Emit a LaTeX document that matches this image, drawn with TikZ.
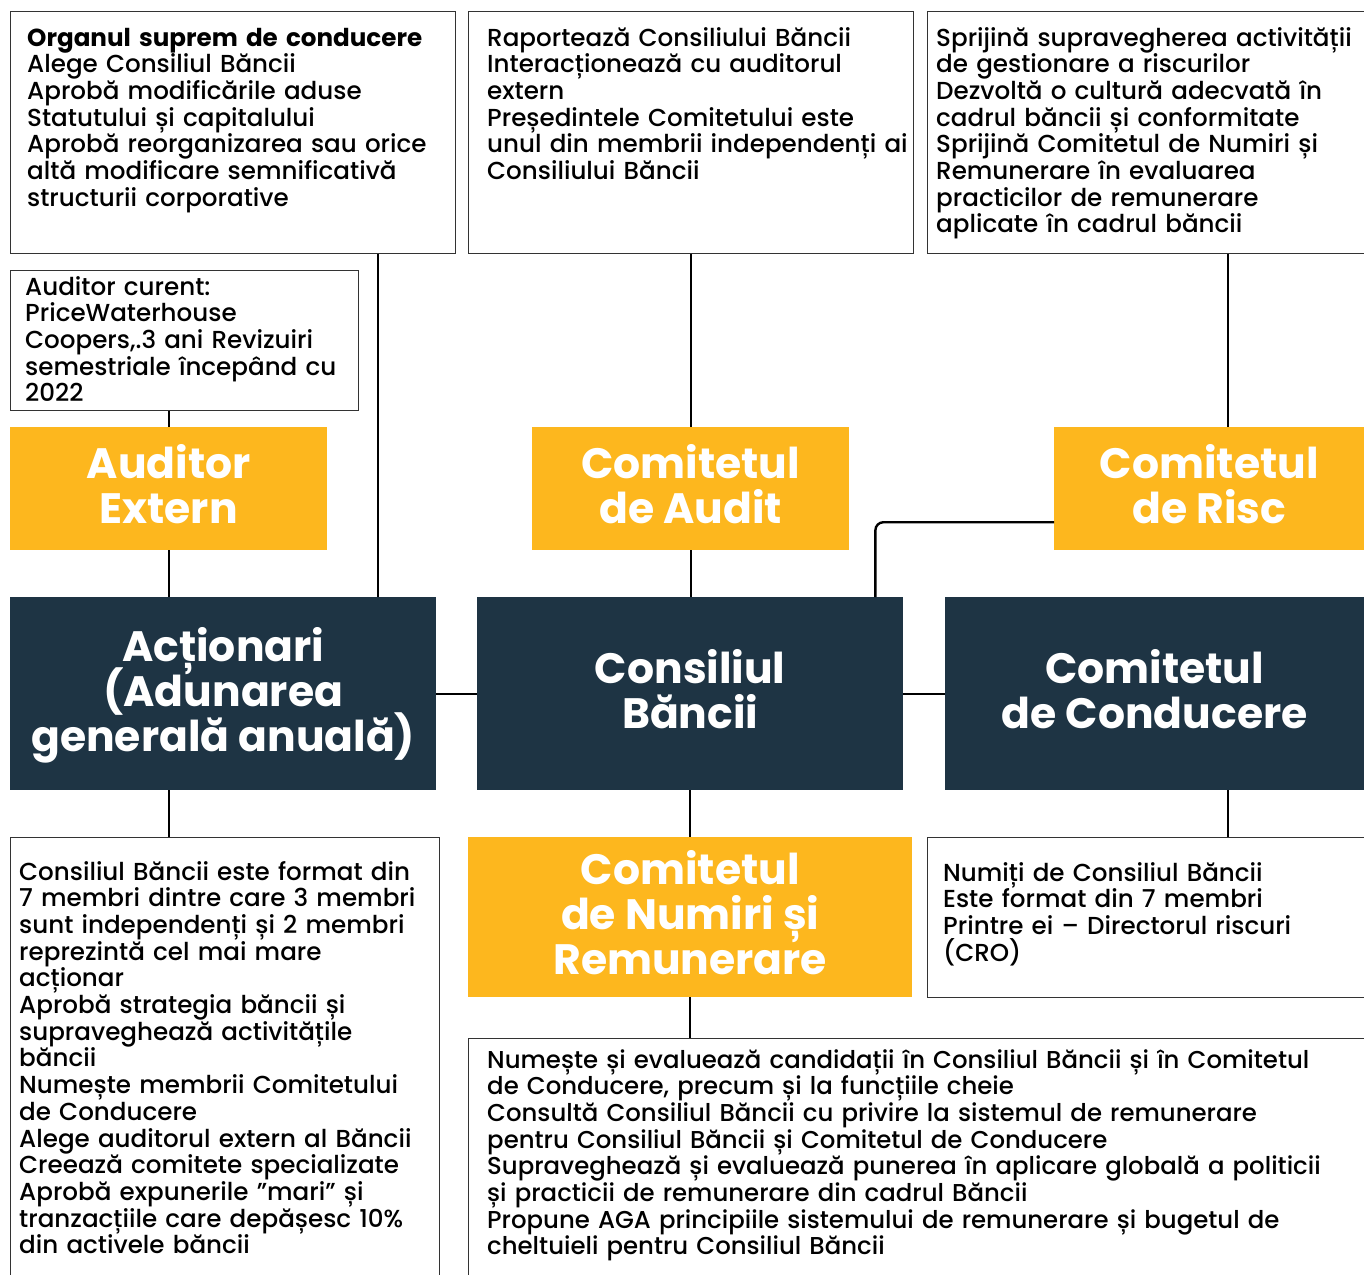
\documentclass[tikz,border=0pt]{standalone}
\usepackage{fontspec}
\setmainfont{Poppins}[UprightFont=* Medium,BoldFont=* Bold]
\definecolor{gold}{HTML}{FDB71E}
\definecolor{navy}{HTML}{1E3444}
\definecolor{bord}{HTML}{333333}
\newcommand\tightlines{\lineskiplimit=-60pt\relax}
\tikzset{
  txtbox/.style={draw=bord,line width=1.2pt,fill=white,anchor=north west,inner sep=0pt},
  headfont/.style={font=\fontsize{42.5}{45}\selectfont\bfseries\tightlines},
  goldbox/.style={fill=gold,anchor=north west,inner sep=0pt,text=white,headfont,align=center,text depth=9pt},
  navybox/.style={fill=navy,anchor=north west,inner sep=0pt,text=white,headfont,align=center,text depth=9pt},
  body/.style={anchor=base west,inner sep=0pt,align=left,text width=#1,font=\fontsize{24.6}{26.7}\selectfont\tightlines},
  conn/.style={line width=2.4pt,black},
}
\begin{document}
\begin{tikzpicture}[x=1pt,y=-1pt]
\useasboundingbox (0,0) rectangle (1364,1274);
\begin{scope}
\clip (0,0) rectangle (1364,1274);
% text boxes
\node[txtbox,minimum width=445pt,minimum height=242pt] (tl) at (10,11) {};
\node[txtbox,minimum width=445pt,minimum height=242pt] (tm) at (468,11) {};
\node[txtbox,minimum width=450pt,minimum height=242pt] (tr) at (927,11) {};
\node[txtbox,minimum width=348pt,minimum height=140pt] (ac) at (10,270) {};
\node[txtbox,minimum width=429pt,minimum height=450pt] (bl) at (10,837) {};
\node[txtbox,minimum width=450pt,minimum height=160pt] (br) at (927,837) {};
\node[txtbox,minimum width=910pt,minimum height=250pt] (bm) at (468,1038) {};
% gold boxes
\node[goldbox,minimum width=317pt,minimum height=123pt] (ae) at (10,427) {Auditor\\Extern};
\node[goldbox,minimum width=317pt,minimum height=123pt] (ca) at (532,427) {Comitetul\\de Audit};
\node[goldbox,minimum width=310pt,minimum height=123pt] (cr) at (1054,427) {Comitetul\\de Risc};
\node[goldbox,minimum width=444pt,minimum height=160pt] (cn) at (468,837) {Comitetul\\de Numiri și\\Remunerare};
% navy boxes
\node[navybox,minimum width=426pt,minimum height=193pt] (act) at (10,597) {Acționari\\(Adunarea\\generală anuală)};
\node[navybox,minimum width=426pt,minimum height=193pt] (cb) at (477,597) {Consiliul\\Băncii};
\node[navybox,minimum width=419pt,minimum height=193pt] (cc) at (945,597) {Comitetul\\de Conducere};
% connectors
\draw[conn] ([xshift=368pt]tl.south west) -- ([xshift=368pt]tl.south west |- act.north);
\draw[conn] (tm.south -| ca.north) -- (ca.north);
\draw[conn] ([xshift=301pt]tr.south west) -- ([xshift=301pt]tr.south west |- cr.north);
\draw[conn] (ac.south -| ae.north) -- (ae.north);
\draw[conn] (ae.south) -- (ae.south |- act.north);
\draw[conn] (ca.south) -- (ca.south |- cb.north);
\coordinate (rk) at ([xshift=-28pt]cb.north east);
\draw[conn,rounded corners=8pt] ([yshift=-33.5pt]cr.west) -| (rk);
\draw[conn] (act.east) -- (cb.west);
\draw[conn] (cb.east) -- (cc.west);
\draw[conn] ([xshift=159pt]act.south west) -- ([xshift=159pt]act.south west |- bl.north);
\draw[conn] (cb.south) -- (cb.south |- cn.north);
\draw[conn] (cn.south) -- (cn.south |- bm.north);
\draw[conn] ([xshift=283pt]cc.south west) -- ([xshift=283pt]cc.south west |- br.north);
% texts
\node[body=440pt] (tlt) at (27,46) {\textbf{Organul suprem de conducere}\\Alege Consiliul Băncii\\Aprobă modificările aduse\\Statutului și capitalului\\Aprobă reorganizarea sau orice\\altă modificare semnificativă\\structurii corporative};
\node[body=440pt] (tmt) at (487,46) {Raportează Consiliului Băncii\\Interacționează cu auditorul\\extern\\Președintele Comitetului este\\unul din membrii independenți ai\\Consiliului Băncii};
\node[body=440pt] (trt) at (936,46) {Sprijină supravegherea activității\\de gestionare a riscurilor\\Dezvoltă o cultură adecvată în\\cadrul băncii și conformitate\\Sprijină Comitetul de Numiri și\\Remunerare în evaluarea\\practicilor de remunerare\\aplicate în cadrul băncii};
\node[body=340pt] (act2) at (25,295) {Auditor curent:\\PriceWaterhouse\\Coopers,.3 ani Revizuiri\\semestriale începând cu\\2022};
\node[body=430pt] (blt) at (19,880) {Consiliul Băncii este format din\\7 membri dintre care 3 membri\\sunt independenți și 2 membri\\reprezintă cel mai mare\\acționar\\Aprobă strategia băncii și\\supraveghează activitățile\\băncii\\Numește membrii Comitetului\\de Conducere\\Alege auditorul extern al Băncii\\Creează comitete specializate\\Aprobă expunerile ”mari” și\\tranzacțiile care depășesc 10\%\\din activele băncii};
\node[body=420pt] (brt) at (943,881) {Numiți de Consiliul Băncii\\Este format din 7 membri\\Printre ei – Directorul riscuri\\(CRO)};
\node[body=880pt,font=\fontsize{24.4}{26.7}\selectfont\tightlines] (bmt) at (487,1068) {Numește și evaluează candidații în Consiliul Băncii și în Comitetul\\de Conducere, precum și la funcțiile cheie\\Consultă Consiliul Băncii cu privire la sistemul de remunerare\\pentru Consiliul Băncii și Comitetul de Conducere\\Supraveghează și evaluează punerea în aplicare globală a politicii\\și practicii de remunerare din cadrul Băncii\\Propune AGA principiile sistemului de remunerare și bugetul de\\cheltuieli pentru Consiliul Băncii};
\end{scope}
\end{tikzpicture}
\end{document}
